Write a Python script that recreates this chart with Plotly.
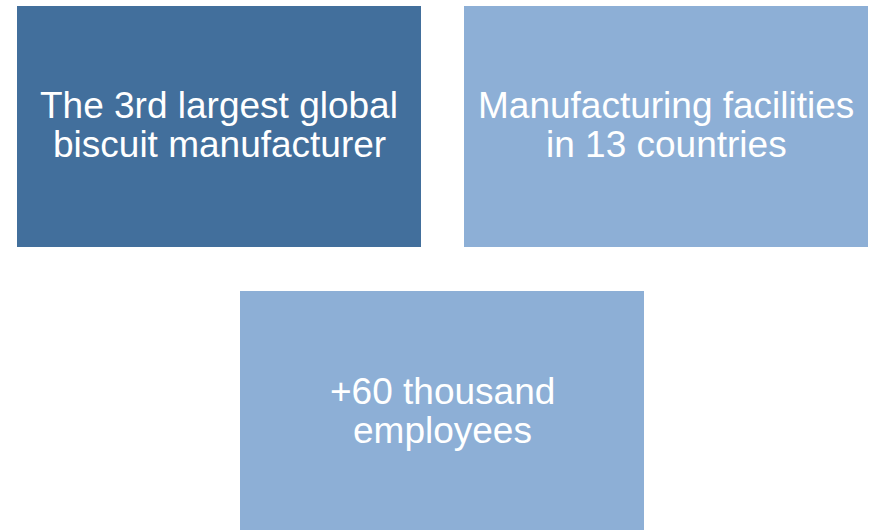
import plotly.graph_objects as go

# Data
box_labels = [
    ["The 3rd largest global", "biscuit manufacturer"],
    ["Manufacturing facilities", "in 13 countries"],
    ["+60 thousand", "employees"],
]
box_colors = ["#426F9C", "#8DAFD6", "#8DAFD6"]
box_x0 = [17, 464, 240]
box_x1 = [421, 868, 644]
box_y0 = [6, 6, 291]
box_y1 = [247, 247, 540]
line_y = [[105, 144.5], [105, 144.5], [391.5, 430]]

W, H = 869, 530
fig = go.Figure()
fig.add_trace(go.Scatter(x=[0, W], y=[0, H], mode="markers", marker=dict(opacity=0), hoverinfo="skip", showlegend=False))

shapes = []
annotations = []
for i in range(len(box_labels)):
    shapes.append(dict(type="rect", xref="x", yref="y", x0=box_x0[i], x1=box_x1[i], y0=box_y0[i], y1=box_y1[i],
                       fillcolor=box_colors[i], line=dict(width=0), layer="below"))
    cx = (box_x0[i] + box_x1[i]) / 2
    for j, txt in enumerate(box_labels[i]):
        annotations.append(dict(x=cx, y=line_y[i][j], xref="x", yref="y", text=txt, showarrow=False,
                                xanchor="center", yanchor="middle",
                                font=dict(family="Liberation Sans, Arial", size=37, color="white")))

fig.update_layout(
    width=W, height=H, margin=dict(l=0, r=0, t=0, b=0),
    paper_bgcolor="white", plot_bgcolor="white",
    xaxis=dict(range=[0, W], visible=False, fixedrange=True),
    yaxis=dict(range=[H, 0], visible=False, fixedrange=True),
    shapes=shapes, annotations=annotations,
)
fig.write_html("out.html", config={"displayModeBar": False},
               post_script="document.body.style.margin='0';document.body.style.overflow='hidden';")
